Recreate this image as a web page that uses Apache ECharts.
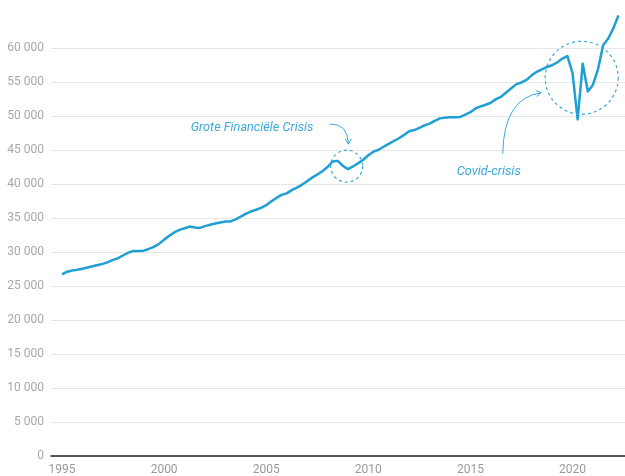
<!DOCTYPE html>
<html><head><meta charset="utf-8">
<script src="https://cdn.jsdelivr.net/npm/echarts@6/dist/echarts.min.js"></script>
<style>html,body{margin:0;padding:0;background:#fff}#c{width:625px;height:476px}</style>
</head><body><div id="c"></div>
<script>
// Quarterly series, 1995Q1 .. 2022Q2
const startYear = 1995;
const quarterlyValues = [
  26700, 27100, 27280, 27380, 27550, 27720, 27900, 28080, 28250, 28520,
  28850, 29090, 29520, 29910, 30160, 30140, 30200, 30450, 30760, 31190,
  31820, 32380, 32880, 33260, 33490, 33740, 33600, 33540, 33800, 34000,
  34200, 34350, 34490, 34500, 34790, 35200, 35610, 35960, 36210, 36500,
  36890, 37450, 37950, 38400, 38620, 39100, 39470, 39880, 40420, 40940,
  41390, 41880, 42500, 43300, 43400, 42680, 42190, 42580, 43050, 43570,
  44220, 44750, 45030, 45480, 45910, 46320, 46730, 47220, 47770, 47930,
  48240, 48630, 48870, 49270, 49650, 49740, 49830, 49830, 49870, 50190,
  50560, 51110, 51420, 51660, 51950, 52480, 52820, 53460, 54070, 54690,
  54930, 55320, 55980, 56500, 56870, 57210, 57470, 57870, 58440, 58810,
  56300, 49500, 57700, 53600, 54600, 56900, 60400, 61400, 62900, 64800
];
const xTickLabels = [1995, 2000, 2005, 2010, 2015, 2020];
const annotationLabels = ['Grote Financiële Crisis', 'Covid-crisis'];
const annotationAnchors = [[2008.94, 42630], [2020.45, 55620]];

const quarterCategories = quarterlyValues.map((v, i) => startYear + i / 4);
const seriesData = quarterlyValues.map((v, i) => [quarterCategories[i], v]);

const chart = echarts.init(document.getElementById('c'), null, {renderer: 'canvas'});
const fmt = v => String(v).replace(/\B(?=(\d{3})+(?!\d))/g, ' ');
const LINE = '#1f9fd3';
const ANN = '#3aa9da';

chart.setOption({
  animation: false,
  grid: {left: 51, right: 0, top: 48, bottom: 17, containLabel: false},
  xAxis: {
    type: 'value', min: 1994.46, max: 2022.57,
    axisLine: {show: true, onZero: false, lineStyle: {color: '#222', width: 1.5}},
    axisTick: {show: false},
    splitLine: {show: false},
    axisLabel: {customValues: xTickLabels, color: '#999', fontFamily: 'Roboto', fontSize: 12, margin: 8,
      formatter: v => String(Math.round(v))}
  },
  yAxis: {
    type: 'value', min: 0, max: 60000, interval: 5000,
    axisLine: {show: false}, axisTick: {show: false},
    splitLine: {lineStyle: {color: '#e6e6e6', width: 1}},
    axisLabel: {color: '#a8a8a8', fontFamily: 'Roboto', fontSize: 12, margin: 7, formatter: fmt}
  },
  series: [{
    type: 'line', data: seriesData, showSymbol: false, clip: false, z: 5,
    lineStyle: {color: LINE, width: 2.5, join: 'round'}
  }]
});

function arrowHead(x, y, fx, fy, len) {
  const dx = x - fx, dy = y - fy, d = Math.hypot(dx, dy);
  const ux = dx / d, uy = dy / d;
  const a = Math.PI / 6;
  const p1 = [x - len * (ux * Math.cos(a) - uy * Math.sin(a)), y - len * (uy * Math.cos(a) + ux * Math.sin(a))];
  const p2 = [x - len * (ux * Math.cos(a) + uy * Math.sin(a)), y - len * (uy * Math.cos(a) - ux * Math.sin(a))];
  return {type: 'polyline', shape: {points: [p1, [x, y], p2]}, style: {stroke: ANN, lineWidth: 1, fill: null}, z: 10};
}

const g = [];
const c1 = chart.convertToPixel({gridIndex: 0}, annotationAnchors[0]);
const c2 = chart.convertToPixel({gridIndex: 0}, annotationAnchors[1]);
// GFC
g.push({type: 'circle', shape: {cx: c1[0], cy: c1[1], r: 16}, style: {fill: null, stroke: ANN, lineWidth: 1.2, lineDash: [3, 3]}, z: 10});
g.push({type: 'text', x: c1[0] - 156, y: c1[1] - 38, style: {text: annotationLabels[0], fill: ANN, font: 'italic 12.7px Roboto', textVerticalAlign: 'middle'}, z: 10});
{
  const s = [c1[0] - 17, c1[1] - 42], e = [c1[0] + 1.8, c1[1] - 22], cp = [c1[0] + 1, c1[1] - 43];
  g.push({type: 'bezierCurve', shape: {x1: s[0], y1: s[1], x2: e[0], y2: e[1], cpx1: cp[0], cpy1: cp[1]}, style: {stroke: ANN, lineWidth: 1, fill: null}, z: 10});
  g.push(arrowHead(e[0], e[1], cp[0], cp[1], 6));
}
// Covid
g.push({type: 'circle', shape: {cx: c2[0], cy: c2[1], r: 36.5}, style: {fill: null, stroke: ANN, lineWidth: 1.2, lineDash: [3, 3]}, z: 10});
g.push({type: 'text', x: c2[0] - 125, y: c2[1] + 94, style: {text: annotationLabels[1], fill: ANN, font: 'italic 12.8px Roboto', textVerticalAlign: 'middle'}, z: 10});
{
  const s = [c2[0] - 79, c2[1] + 76], e = [c2[0] - 40.5, c2[1] + 15], cp = [c2[0] - 78, c2[1] + 20];
  g.push({type: 'bezierCurve', shape: {x1: s[0], y1: s[1], x2: e[0], y2: e[1], cpx1: cp[0], cpy1: cp[1]}, style: {stroke: ANN, lineWidth: 1, fill: null}, z: 10});
  g.push(arrowHead(e[0], e[1], cp[0], cp[1], 6));
}
chart.setOption({graphic: {elements: g}});
</script>
</body></html>
